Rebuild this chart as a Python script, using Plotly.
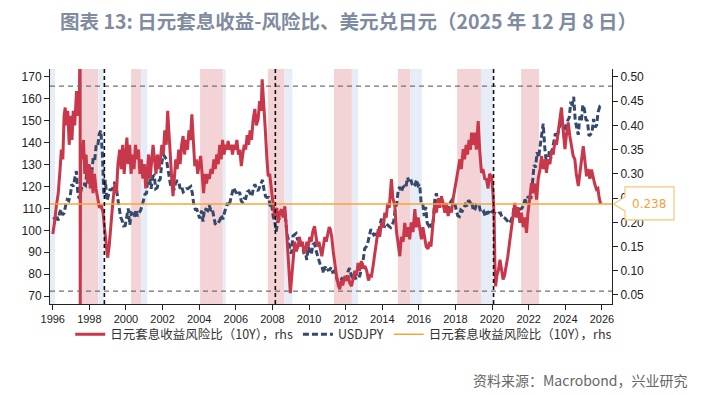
import plotly.graph_objects as go

# ---------------- data ----------------
# USDJPY monthly (lhs)
usdjpy_start_year = 1996
usdjpy = [
    106, 105, 107, 104.5, 108, 109.5, 107, 108, 111.5, 114, 113.5, 116,          # 1996
    121, 120, 124, 127, 116, 114.5, 118, 121, 121, 120.5, 127.5, 130.5,          # 1997
    127, 126, 133, 132, 139, 138.5, 144, 145.5, 135.5, 116, 123, 113.5,          # 1998
    116, 118.5, 118.5, 119.5, 121.5, 121, 115, 110, 106, 104.5, 102, 102.2,      # 1999
    107, 110, 102.5, 108, 107.5, 106, 109.5, 106.5, 108, 109, 111, 114.5,        # 2000
    116.5, 117, 125.5, 123.5, 119, 124.5, 125, 119, 119.5, 122.5, 123.5, 131,    # 2001
    134.5, 133.5, 132.5, 128, 124, 119.5, 120, 118.5, 121.5, 122.5, 122.5, 119,  # 2002
    120, 117.5, 118, 119, 119, 119.5, 120, 117, 111.5, 109.5, 109.5, 107,        # 2003
    105.5, 109, 104, 110, 109.5, 109, 111.5, 109.5, 110, 106, 103, 102.5,        # 2004
    103.5, 104.5, 107, 105, 108, 110.5, 112.5, 111, 113.5, 116.5, 119.5, 118,    # 2005
    117, 116, 117.5, 113.5, 112.5, 114.5, 114.5, 117.5, 118, 117, 115.5, 119,    # 2006
    121, 119, 118, 119.5, 121.5, 123, 118.5, 115.5, 115, 115, 111, 112,          # 2007
    106.5, 104, 99.5, 104, 105.5, 106, 108, 108.5, 106, 98.5, 95.5, 90.5,        # 2008
    89.5, 97.5, 98, 98.5, 95.5, 96.5, 94.5, 93, 90, 90.5, 86.5, 92.5,            # 2009
    90.5, 89, 93.5, 94, 91, 88.5, 86.5, 84, 83.5, 80.5, 83.5, 81.5,              # 2010
    82, 82, 83, 81, 81.5, 80.5, 77, 76.7, 77, 78, 77.5, 77,                      # 2011
    76.3, 81, 82.8, 80, 78.3, 79.8, 78.1, 78.4, 78, 79.8, 82.5, 86.5,            # 2012
    91.7, 92.5, 94.2, 97.5, 100.5, 99.2, 97.9, 98.2, 98.3, 98.4, 102.4, 105.3,   # 2013
    102, 101.8, 103.2, 102.2, 101.8, 101.3, 102.8, 104.1, 109.6, 112.3, 118.6, 119.8,  # 2014
    117.5, 119.6, 120.1, 119.4, 124.1, 122.4, 123.9, 121.2, 119.9, 120.6, 123.1, 120.4,  # 2015
    121, 112.6, 112.6, 106.5, 110.7, 103.2, 102.1, 103.4, 101.3, 104.8, 114.4, 116.9,    # 2016
    112.8, 112.7, 111.4, 111.5, 110.8, 112.4, 110.3, 110, 112.5, 113.6, 112.5, 112.7,    # 2017
    109.2, 106.7, 106.3, 109.3, 108.8, 110.8, 111.8, 111, 113.7, 112.9, 113.5, 109.7,    # 2018
    108.9, 111.4, 110.9, 111.4, 108.3, 107.9, 108.6, 106.3, 108.1, 108, 109.5, 108.6,    # 2019
    108.4, 107.9, 107.5, 107.2, 107.8, 107.9, 105.8, 105.9, 105.5, 104.7, 104.3, 103.2,  # 2020
    104.7, 106.6, 110.7, 109.3, 109.6, 111.1, 109.7, 110, 111.3, 114, 113.2, 115.1,      # 2021
    115.1, 115, 121.7, 129.8, 128.7, 135.7, 133.2, 138.9, 144.7, 148.7, 138.1, 131.1,    # 2022
    130.1, 136.2, 132.8, 136.3, 139.3, 144.3, 142.3, 145.5, 149.4, 151.7, 148.2, 141,    # 2023
    147, 150, 151.3, 157.8, 157.3, 160.9, 150, 146.2, 143.6, 152, 150, 157.2,            # 2024
    155.2, 150.6, 149.9, 143.1, 144, 144.4, 150.8, 147, 148, 154, 156.2, 155.5,          # 2025
]

# Yen carry-to-risk ratio (10Y), rhs — (decimal year, value)
ratio_years = [
    1996.00, 1996.10, 1996.20, 1996.30, 1996.40, 1996.47, 1996.55, 1996.62, 1996.68, 1996.75,
    1996.82, 1996.90, 1996.97, 1997.05, 1997.12, 1997.20, 1997.30, 1997.38, 1997.45, 1997.495,
    1997.50, 1997.505, 1997.52, 1997.60, 1997.68, 1997.75, 1997.82, 1997.90, 1997.98, 1998.05,
    1998.12, 1998.20, 1998.28, 1998.36, 1998.45, 1998.55, 1998.65, 1998.75, 1998.85, 1998.95,
    1999.00, 1999.08, 1999.18, 1999.28, 1999.39, 1999.48, 1999.56, 1999.66, 1999.74, 1999.82,
    1999.90, 1999.98, 2000.05, 2000.12, 2000.20, 2000.28, 2000.36, 2000.44, 2000.52, 2000.60,
    2000.68, 2000.76, 2000.84, 2000.92, 2001.00, 2001.08, 2001.16, 2001.24, 2001.32, 2001.40,
    2001.48, 2001.56, 2001.64, 2001.72, 2001.80, 2001.88, 2001.96, 2002.04, 2002.12, 2002.20,
    2002.28, 2002.34, 2002.42, 2002.50, 2002.57, 2002.64, 2002.72, 2002.80, 2002.88, 2002.96,
    2003.04, 2003.12, 2003.20, 2003.28, 2003.36, 2003.44, 2003.52, 2003.60, 2003.68, 2003.76,
    2003.84, 2003.92, 2004.00, 2004.08, 2004.16, 2004.24, 2004.32, 2004.40, 2004.48, 2004.56,
    2004.64, 2004.72, 2004.80, 2004.88, 2004.96, 2005.04, 2005.12, 2005.20, 2005.28, 2005.36,
    2005.44, 2005.52, 2005.58, 2005.66, 2005.74, 2005.82, 2005.90, 2005.98, 2006.06, 2006.14,
    2006.22, 2006.30, 2006.38, 2006.46, 2006.54, 2006.62, 2006.70, 2006.78, 2006.86, 2006.94,
    2007.04, 2007.12, 2007.22, 2007.30, 2007.38, 2007.44, 2007.50, 2007.56, 2007.62, 2007.70,
    2007.77, 2007.85, 2007.95, 2008.03, 2008.10, 2008.16, 2008.24, 2008.32, 2008.40, 2008.50,
    2008.58, 2008.68, 2008.76, 2008.86, 2008.94, 2008.98, 2009.06, 2009.14, 2009.22, 2009.30,
    2009.40, 2009.48, 2009.56, 2009.64, 2009.72, 2009.80, 2009.88, 2009.96, 2010.04, 2010.12,
    2010.20, 2010.30, 2010.38, 2010.46, 2010.54, 2010.62, 2010.70, 2010.78, 2010.86, 2010.94,
    2011.02, 2011.10, 2011.16, 2011.24, 2011.32, 2011.41, 2011.50, 2011.60, 2011.68, 2011.76,
    2011.84, 2011.96, 2012.04, 2012.14, 2012.22, 2012.32, 2012.40, 2012.50, 2012.60, 2012.68,
    2012.76, 2012.86, 2012.96, 2013.05, 2013.15, 2013.25, 2013.33, 2013.41, 2013.50, 2013.60,
    2013.70, 2013.78, 2013.86, 2013.96, 2014.06, 2014.14, 2014.22, 2014.30, 2014.38, 2014.46,
    2014.50, 2014.58, 2014.69, 2014.78, 2014.88, 2014.96, 2015.04, 2015.14, 2015.23, 2015.32,
    2015.40, 2015.50, 2015.58, 2015.68, 2015.78, 2015.86, 2015.96, 2016.06, 2016.14, 2016.22,
    2016.30, 2016.40, 2016.50, 2016.58, 2016.66, 2016.76, 2016.87, 2016.96, 2017.06, 2017.14,
    2017.23, 2017.32, 2017.42, 2017.50, 2017.60, 2017.70, 2017.78, 2017.87, 2017.96, 2018.06,
    2018.15, 2018.24, 2018.32, 2018.42, 2018.50, 2018.58, 2018.66, 2018.74, 2018.82, 2018.88,
    2018.96, 2019.06, 2019.14, 2019.24, 2019.32, 2019.42, 2019.50, 2019.60, 2019.69, 2019.78,
    2019.86, 2019.97, 2020.05, 2020.11, 2020.15, 2020.19, 2020.26, 2020.34, 2020.43, 2020.52,
    2020.60, 2020.68, 2020.78, 2020.86, 2020.96, 2021.06, 2021.14, 2021.24, 2021.32, 2021.42,
    2021.52, 2021.60, 2021.70, 2021.80, 2021.88, 2021.96, 2022.06, 2022.15, 2022.24, 2022.34,
    2022.43, 2022.52, 2022.62, 2022.70, 2022.80, 2022.88, 2022.97, 2023.06, 2023.16, 2023.25,
    2023.34, 2023.44, 2023.52, 2023.60, 2023.68, 2023.74, 2023.79, 2023.86, 2023.92, 2023.98,
    2024.06, 2024.16, 2024.24, 2024.32, 2024.43, 2024.52, 2024.60, 2024.71, 2024.80, 2024.90,
    2024.98, 2025.06, 2025.16, 2025.24, 2025.34, 2025.43, 2025.52, 2025.60, 2025.70, 2025.78,
    2025.85, 2025.93,
]
ratio_values = [
    0.176, 0.20, 0.235, 0.26, 0.31, 0.35, 0.33, 0.42, 0.437, 0.40,
    0.43, 0.36, 0.42, 0.37, 0.43, 0.40, 0.471, 0.42, 0.44, 0.60,
    0.00, 0.36, 0.36, 0.33, 0.37, 0.30, 0.34, 0.28, 0.32, 0.27,
    0.31, 0.26, 0.30, 0.27, 0.25, 0.23, 0.235, 0.22, 0.18, 0.14,
    0.127, 0.15, 0.20, 0.24, 0.28, 0.26, 0.32, 0.35, 0.31, 0.36,
    0.30, 0.34, 0.375, 0.32, 0.36, 0.30, 0.34, 0.31, 0.36, 0.33,
    0.35, 0.30, 0.33, 0.29, 0.32, 0.27, 0.30, 0.34, 0.29, 0.32,
    0.36, 0.33, 0.30, 0.34, 0.31, 0.33, 0.36, 0.34, 0.39, 0.36,
    0.43, 0.39, 0.33, 0.29, 0.254, 0.30, 0.33, 0.31, 0.35, 0.32,
    0.36, 0.378, 0.34, 0.37, 0.35, 0.39, 0.37, 0.423, 0.36, 0.316,
    0.33, 0.30, 0.32, 0.337, 0.30, 0.26, 0.30, 0.28, 0.30, 0.29,
    0.31, 0.30, 0.33, 0.31, 0.34, 0.32, 0.36, 0.33, 0.37, 0.34,
    0.36, 0.35, 0.368, 0.35, 0.36, 0.34, 0.36, 0.35, 0.37, 0.34,
    0.35, 0.316, 0.34, 0.36, 0.35, 0.38, 0.36, 0.39, 0.37, 0.41,
    0.434, 0.40, 0.413, 0.45, 0.43, 0.495, 0.46, 0.41, 0.385, 0.33,
    0.295, 0.30, 0.26, 0.24, 0.22, 0.21, 0.23, 0.20, 0.22, 0.227,
    0.21, 0.233, 0.19, 0.137, 0.08, 0.054, 0.09, 0.12, 0.16, 0.14,
    0.151, 0.17, 0.15, 0.16, 0.14, 0.137, 0.16, 0.15, 0.17, 0.16,
    0.18, 0.192, 0.17, 0.15, 0.16, 0.14, 0.13, 0.15, 0.17, 0.16,
    0.18, 0.19, 0.186, 0.17, 0.14, 0.11, 0.09, 0.07, 0.062, 0.08,
    0.07, 0.089, 0.08, 0.09, 0.075, 0.068, 0.085, 0.10, 0.09, 0.116,
    0.10, 0.12, 0.105, 0.11, 0.10, 0.08, 0.09, 0.089, 0.11, 0.14,
    0.16, 0.186, 0.17, 0.20, 0.19, 0.22, 0.21, 0.24, 0.23, 0.27,
    0.289, 0.25, 0.233, 0.18, 0.15, 0.13, 0.17, 0.16, 0.199, 0.17,
    0.19, 0.165, 0.20, 0.18, 0.227, 0.19, 0.21, 0.18, 0.165, 0.19,
    0.17, 0.15, 0.145, 0.16, 0.15, 0.19, 0.24, 0.22, 0.25, 0.23,
    0.254, 0.24, 0.22, 0.24, 0.213, 0.23, 0.22, 0.248, 0.27, 0.29,
    0.316, 0.33, 0.31, 0.351, 0.33, 0.36, 0.34, 0.37, 0.35, 0.385,
    0.36, 0.385, 0.35, 0.409, 0.35, 0.302, 0.31, 0.29, 0.289, 0.27,
    0.30, 0.295, 0.26, 0.213, 0.12, 0.068, 0.09, 0.10, 0.123, 0.10,
    0.082, 0.09, 0.11, 0.13, 0.16, 0.186, 0.21, 0.24, 0.21, 0.23,
    0.199, 0.22, 0.19, 0.21, 0.178, 0.22, 0.25, 0.281, 0.26, 0.28,
    0.247, 0.29, 0.31, 0.337, 0.31, 0.33, 0.302, 0.33, 0.32, 0.35,
    0.34, 0.37, 0.36, 0.385, 0.40, 0.42, 0.437, 0.40, 0.37, 0.351,
    0.38, 0.406, 0.38, 0.36, 0.337, 0.33, 0.30, 0.275, 0.30, 0.33,
    0.357, 0.33, 0.295, 0.31, 0.29, 0.309, 0.29, 0.28, 0.268, 0.27,
    0.25, 0.238,
]

# shaded episodes (start, end): pink = stress, light blue = follow-through
pink_periods = [(1997.49, 1998.49), (2000.28, 2000.83), (2004.05, 2005.29), (2007.75, 2008.66),
                (2011.36, 2012.34), (2014.85, 2015.52), (2018.09, 2019.39), (2021.59, 2022.56)]
blue_periods = [(1995.85, 1996.13), (1998.49, 1998.77), (2000.83, 2001.17), (2005.29, 2005.45),
                (2008.66, 2009.09), (2012.34, 2012.67), (2015.52, 2016.16), (2019.39, 2020.04)]
event_lines = [1998.82, 2008.16, 2020.08]
ref_levels = [0.481, 0.058]

x_ticks = list(range(1996, 2027, 2))
left_ticks = list(range(70, 171, 10))
right_ticks = [0.05, 0.10, 0.15, 0.20, 0.25, 0.30, 0.35, 0.40, 0.45, 0.50]

X_RANGE = [1995.85, 2026.55]
LEFT_RANGE = [66.4, 173.6]
RIGHT_RANGE = [0.0314, 0.5165]

usdjpy_x = [usdjpy_start_year + i / 12 + 1 / 24 for i in range(len(usdjpy))]
latest = ratio_values[-1]

RED = "#c8374a"
NAVY = "#34496b"
ORANGE = "#f3a73a"

fig = go.Figure()
fig.add_trace(go.Scatter(x=ratio_years, y=ratio_values, yaxis="y2", mode="lines",
                         name="日元套息收益风险比（10Y），rhs",
                         line=dict(color=RED, width=3)))
fig.add_trace(go.Scatter(x=usdjpy_x, y=usdjpy, yaxis="y", mode="lines", name="USDJPY",
                         line=dict(color=NAVY, width=3, dash="6px,3px")))
fig.add_trace(go.Scatter(x=X_RANGE, y=[latest, latest], yaxis="y2", mode="lines",
                         name="日元套息收益风险比（10Y），rhs",
                         line=dict(color=ORANGE, width=1.5)))

shapes = []
for a, b in pink_periods:
    shapes.append(dict(type="rect", xref="x", yref="paper", x0=a, x1=b, y0=0, y1=1,
                       fillcolor="#f3d3d6", line=dict(width=0), layer="below"))
for a, b in blue_periods:
    shapes.append(dict(type="rect", xref="x", yref="paper", x0=a, x1=b, y0=0, y1=1,
                       fillcolor="#e6edf6", line=dict(width=0), layer="below"))
for v in ref_levels:
    shapes.append(dict(type="line", xref="paper", yref="y2", x0=0, x1=1, y0=v, y1=v,
                       line=dict(color="#707070", width=1.2, dash="5px,4px")))
for e in event_lines:
    shapes.append(dict(type="line", xref="x", yref="paper", x0=e, x1=e, y0=0, y1=1,
                       line=dict(color="#111111", width=1.6, dash="4px,3px")))
# callout box for latest value
shapes.append(dict(type="path", xref="paper", yref="y2", xsizemode="pixel", ysizemode="pixel",
                   xanchor=1, yanchor=latest,
                   path="M 1.5 0 L 13 7 L 13 17 L 62 17 L 62 -16 L 13 -16 L 13 -7 Z",
                   fillcolor="white", line=dict(color="#f6c77a", width=1.2)))

# page body adds an 8px offset; figure coordinates below compensate for it
fig.update_layout(
    width=712, height=395,
    margin=dict(l=42, r=108, t=61, b=99),
    paper_bgcolor="white", plot_bgcolor="white",
    showlegend=True,
    legend=dict(orientation="h", x=0.036, xanchor="left", y=-0.066, yanchor="top",
                font=dict(family="Noto Sans CJK SC", size=12.5, color="#333333"),
                itemwidth=30, tracegroupgap=0, bgcolor="rgba(0,0,0,0)"),
    title=dict(text="图表 13: 日元套息收益-风险比、美元兑日元（2025 年 12 月 8 日）",
               x=52 / 712, xref="container", xanchor="left",
               y=1 - 14 / 395, yref="container", yanchor="middle",
               font=dict(family="Noto Sans CJK SC", size=19.5, color="#7f8ba1", weight="bold")),
    xaxis=dict(range=X_RANGE, tickmode="array", tickvals=x_ticks, ticktext=[str(t) for t in x_ticks],
               showgrid=False, zeroline=False, showline=True, linecolor="#222222", linewidth=1,
               ticks="outside", ticklen=5, tickcolor="#222222",
               tickfont=dict(family="Liberation Sans", size=11, color="#222222")),
    yaxis=dict(range=LEFT_RANGE, tickmode="array", tickvals=left_ticks,
               showgrid=False, zeroline=False, showline=True, linecolor="#222222", linewidth=1,
               ticks="outside", ticklen=5, tickcolor="#222222",
               tickfont=dict(family="Liberation Sans", size=12, color="#222222")),
    yaxis2=dict(range=RIGHT_RANGE, overlaying="y", side="right", tickmode="array",
                tickvals=right_ticks, tickformat=".2f",
                showgrid=False, zeroline=False, showline=True, linecolor="#222222", linewidth=1,
                ticks="outside", ticklen=5, tickcolor="#222222",
                tickfont=dict(family="Liberation Sans", size=12, color="#222222")),
    shapes=shapes,
    annotations=[
        dict(xref="paper", yref="y2", x=1, y=latest, xshift=37, text="0.238", showarrow=False,
             xanchor="center", yanchor="middle",
             font=dict(family="DejaVu Sans", size=12, color="#f0a33a")),
        dict(xref="paper", yref="paper", x=(682 - 42) / 562, y=(296 - 372) / 235,
             xanchor="right", yanchor="middle",
             text="资料来源：Macrobond，兴业研究", showarrow=False,
             font=dict(family="Noto Sans CJK SC", size=14, color="#666666")),
    ],
)

fig.write_html("out.html")
